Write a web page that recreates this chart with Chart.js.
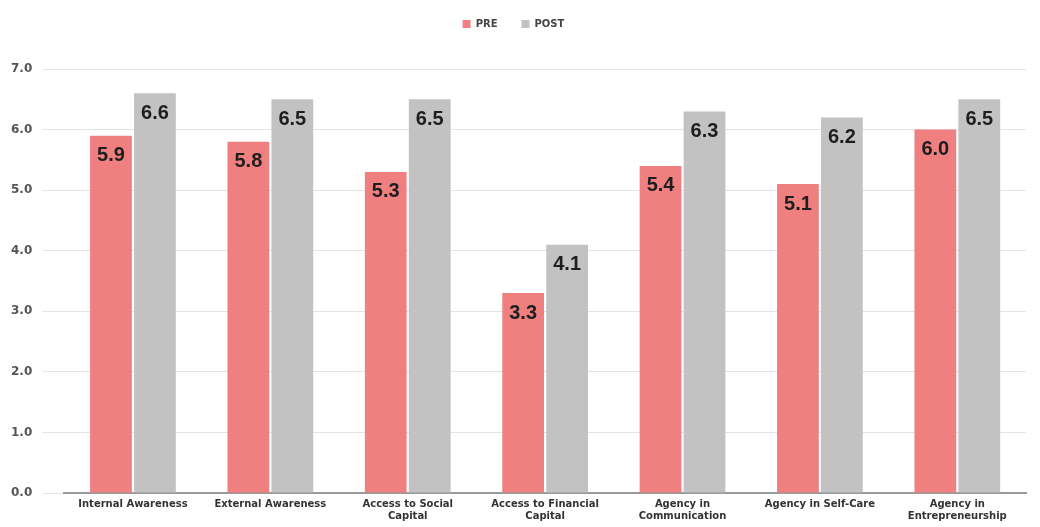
<!DOCTYPE html>
<html>
<head>
<meta charset="utf-8">
<script src="https://cdn.jsdelivr.net/npm/chart.js@4/dist/chart.umd.min.js"></script>
<style>
  html, body { margin: 0; padding: 0; background: #fff; }
  #wrap { width: 1040px; height: 527px; }
</style>
</head>
<body>
<div id="wrap"><canvas id="myChart" width="1040" height="527"></canvas></div>
<script>
const categories = [
  ['Internal Awareness'],
  ['External Awareness'],
  ['Access to Social', 'Capital'],
  ['Access to Financial', 'Capital'],
  ['Agency in', 'Communication'],
  ['Agency in Self-Care'],
  ['Agency in', 'Entrepreneurship']
]
const preValues = [5.9, 5.8, 5.3, 3.3, 5.4, 5.1, 6.0]
const postValues = [6.6, 6.5, 6.5, 4.1, 6.3, 6.2, 6.5]
const yTicks = [0, 1, 2, 3, 4, 5, 6, 7]

const FONT = '"DejaVu Sans", Verdana, sans-serif'

// value printed inside the top of every bar
const barLabels = {
  id: 'barLabels',
  afterDatasetsDraw(chart) {
    const ctx = chart.ctx
    ctx.save()
    ctx.font = 'bold 20px "Liberation Sans", Arial, sans-serif'
    ctx.fillStyle = '#1e1e1e'
    ctx.textAlign = 'center'
    ctx.textBaseline = 'middle'
    chart.data.datasets.forEach((ds, i) => {
      chart.getDatasetMeta(i).data.forEach((bar, j) => {
        ctx.fillText(ds.data[j].toFixed(1), bar.x, bar.y + 20)
      })
    })
    ctx.restore()
  }
}

// keep the wide legend spacing but sit the legend closer to the top edge
const legendLift = {
  id: 'legendLift',
  afterLayout(chart) {
    chart.legend.top -= 30
    chart.legend.bottom -= 30
  }
}

;(() => {
  'use strict'

  const ctx = document.getElementById('myChart')

  new Chart(ctx, {
    type: 'bar',
    data: {
      labels: categories,
      datasets: [
        {
          label: 'PRE',
          data: preValues,
          backgroundColor: '#f08080',
          categoryPercentage: 0.64,
          barPercentage: 0.95
        },
        {
          label: 'POST',
          data: postValues,
          backgroundColor: '#c2c2c2',
          categoryPercentage: 0.64,
          barPercentage: 0.95
        }
      ]
    },
    options: {
      responsive: false,
      animation: false,
      layout: { padding: { left: 1, right: 14, top: 25, bottom: 0 } },
      scales: {
        x: {
          grid: { display: false, drawTicks: false },
          border: { color: '#999', width: 2 },
          ticks: {
            color: '#333',
            padding: 5,
            maxRotation: 0,
            autoSkip: false,
            font: { family: FONT, size: 10, weight: 'bold', lineHeight: 1.2 }
          }
        },
        y: {
          min: 0,
          max: 7,
          afterBuildTicks: axis => {
            axis.ticks = yTicks.map(v => ({ value: v }))
          },
          border: { display: false },
          grid: { color: '#e4e4e4', tickLength: 22 },
          ticks: {
            color: '#555',
            padding: 10,
            callback: v => Number(v).toFixed(1),
            font: { family: FONT, size: 12, weight: 'bold' }
          }
        }
      },
      plugins: {
        legend: {
          position: 'top',
          labels: {
            boxWidth: 8,
            boxHeight: 8,
            padding: 24,
            color: '#444',
            font: { family: FONT, size: 10, weight: 'bold' }
          }
        },
        tooltip: { enabled: false }
      }
    },
    plugins: [barLabels, legendLift]
  })
})()
</script>
</body>
</html>
